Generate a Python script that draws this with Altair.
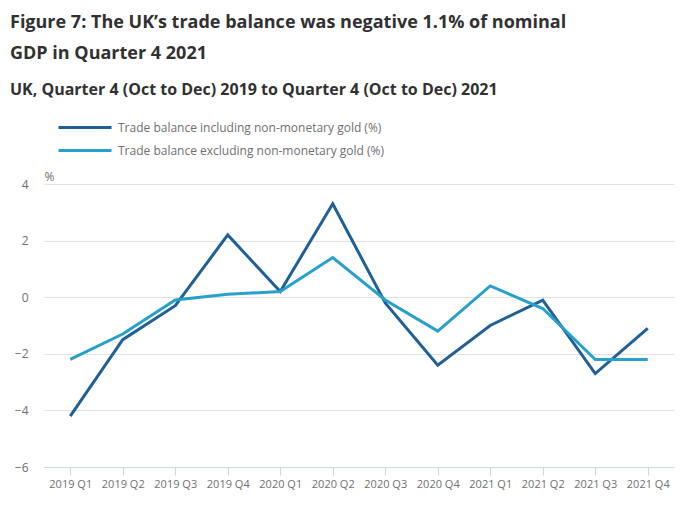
import altair as alt
import pandas as pd

quarters = ["2019 Q1", "2019 Q2", "2019 Q3", "2019 Q4",
            "2020 Q1", "2020 Q2", "2020 Q3", "2020 Q4",
            "2021 Q1", "2021 Q2", "2021 Q3", "2021 Q4"]
including_gold = [-4.2, -1.5, -0.3, 2.2, 0.2, 3.3, -0.2, -2.4, -1.0, -0.1, -2.7, -1.1]
excluding_gold = [-2.2, -1.3, -0.1, 0.1, 0.2, 1.4, -0.1, -1.2, 0.4, -0.4, -2.2, -2.2]

series_names = ["Trade balance including non-monetary gold (%)",
                "Trade balance excluding non-monetary gold (%)"]
series_colors = ["#206095", "#27a0cc"]

rows = []
for name, vals in zip(series_names, [including_gold, excluding_gold]):
    for q, v in zip(quarters, vals):
        rows.append({"quarter": q, "value": v, "series": name})
df = pd.DataFrame(rows)

FONT = "Open Sans"

chart = alt.Chart(df).mark_line(strokeWidth=3).encode(
    x=alt.X("quarter:N", sort=quarters, title=None,
            axis=alt.Axis(labelAngle=0, domainColor="#c9d5e0", tickColor="#c9d5e0",
                          tickSize=8, labelFontSize=11, labelColor="#707071",
                          labelFont=FONT, labelPadding=3, grid=False)),
    y=alt.Y("value:Q", title="%",
            scale=alt.Scale(domain=[-6, 4], nice=False),
            axis=alt.Axis(values=[-6, -4, -2, 0, 2, 4], grid=True, gridColor="#e2e2e3",
                          domain=False, ticks=False, labelFontSize=12,
                          labelColor="#707071", labelFont=FONT, labelPadding=16,
                          titleAngle=0, titleX=0, titleY=-8, titleAlign="left",
                          titleBaseline="middle", titleFontWeight="normal",
                          titleFontSize=12, titleColor="#707071", titleFont=FONT)),
    color=alt.Color("series:N",
                    scale=alt.Scale(domain=series_names, range=series_colors),
                    legend=alt.Legend(title=None, orient="none", legendX=13, legendY=-68,
                                      direction="vertical", symbolType="stroke",
                                      symbolSize=2809, symbolStrokeWidth=3,
                                      labelFontSize=12, labelColor="#707071",
                                      labelFont=FONT, labelOffset=5, rowPadding=0,
                                      clipHeight=23,
                                      labelLimit=500, padding=0)),
).properties(
    width=630,
    height=283,
    padding={"left": 36, "top": 176, "right": 7, "bottom": 42},
    autosize=alt.AutoSizeParams(type="none"),
    title=alt.TitleParams(
        text=["Figure 7: The UK\u2019s trade balance was negative 1.1% of nominal",
              "GDP in Quarter 4 2021"],
        subtitle="UK, Quarter 4 (Oct to Dec) 2019 to Quarter 4 (Oct to Dec) 2021",
        anchor="start", frame="group", dx=-34,
        font=FONT, fontSize=18, fontWeight="bold", color="#323132", lineHeight=31,
        subtitleFont=FONT, subtitleFontSize=16, subtitleFontWeight="bold",
        subtitleColor="#323132", subtitlePadding=19, offset=18,
    ),
).configure_view(stroke=None)

chart.save("out.html", embed_options={"renderer": "svg", "actions": False})
